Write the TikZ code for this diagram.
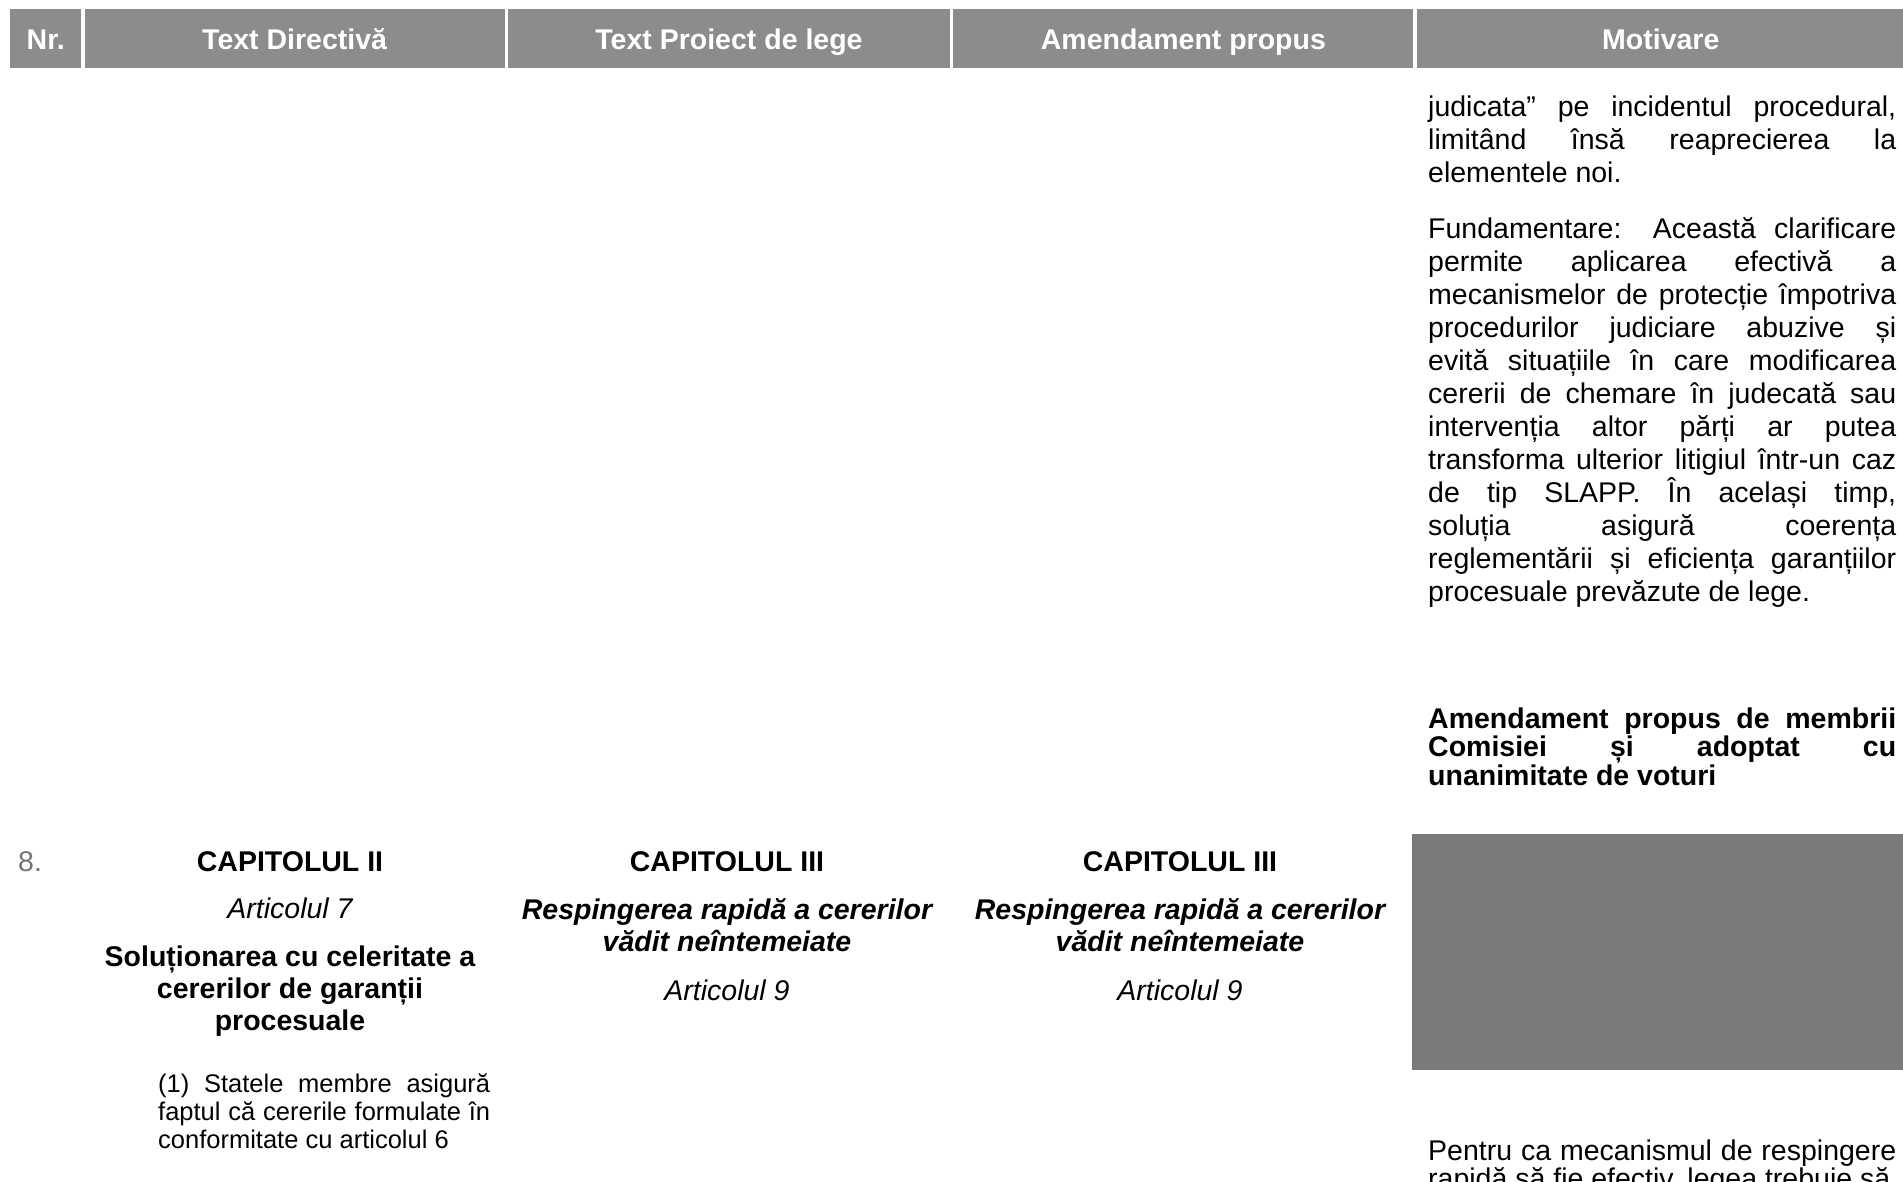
\documentclass[tikz,border=0pt]{standalone}
\usepackage{fontspec}
\setmainfont{Liberation Sans}
\usetikzlibrary{positioning}

\definecolor{hdrgray}{gray}{0.55}
\definecolor{boxgray}{gray}{0.48}
\definecolor{numgray}{gray}{0.45}

\newcommand{\txtsize}{\fontsize{28.5}{33}\selectfont}
\newcommand{\hdsize}{\fontsize{28.5}{32}\selectfont}
\newcommand{\tightsize}{\fontsize{28.5}{28}\selectfont}
\newcommand{\dirsize}{\fontsize{25.5}{28}\selectfont}

\tolerance=10000
\hbadness=10000
\hyphenpenalty=10000

\tikzset{node distance=3pt,
  hcell/.style={fill=hdrgray, text=white, font=\txtsize\bfseries, inner sep=0pt,
    minimum height=59pt, text height=21pt, text depth=0pt},
  motiv/.style={anchor=base west, inner sep=0pt, text width=468pt, align=justify, font=\txtsize},
  dirtext/.style={anchor=base west, inner sep=0pt, text width=332pt, align=justify, font=\dirsize},
  title/.style={anchor=base, inner sep=0pt, align=center, font=\hdsize\bfseries},
  subtitle/.style={anchor=base, inner sep=0pt, font=\txtsize\itshape}}

\begin{document}
\begin{tikzpicture}[x=1pt, y=-1pt]
  \useasboundingbox (0,0) rectangle (1903,1182);

  % header row
  \node[hcell, anchor=north west, minimum width=71pt] (hNr) at (10,9) {Nr.};
  \node[hcell, minimum width=420pt, right=of hNr] (hDir) {Text Directivă};
  \node[hcell, minimum width=442pt, right=of hDir] (hProj) {Text Proiect de lege};
  \node[hcell, minimum width=460pt, right=of hProj] (hAmend) {Amendament propus};
  \node[hcell, minimum width=488pt, right=of hAmend] (hMotiv) {Motivare};

  % motivare, previous row
  \node[motiv] (mPrev) at (1428,117) {judicata” pe incidentul procedural,\linebreak
    limitând însă reaprecierea la\linebreak elementele noi.};
  \node[motiv] (mFund) at (1428,239) {Fundamentare: Această clarificare\linebreak
    permite aplicarea efectivă a\linebreak
    mecanismelor de protecție împotriva\linebreak
    procedurilor judiciare abuzive și\linebreak
    evită situațiile în care modificarea\linebreak
    cererii de chemare în judecată sau\linebreak
    intervenția altor părți ar putea\linebreak
    transforma ulterior litigiul într-un caz\linebreak
    de tip SLAPP. În același timp,\linebreak
    soluția asigură coerența\linebreak
    reglementării și eficiența garanțiilor\linebreak
    procesuale prevăzute de lege.};
  \node[motiv, font=\fontsize{28.5}{28.5}\selectfont\bfseries] (mVot) at (1428,728) {Amendament propus de membrii\linebreak
    Comisiei și adoptat cu\linebreak unanimitate de voturi};

  % row 8
  \node[anchor=base west, inner sep=0pt, font=\txtsize, text=numgray] (nr8) at (18,871) {8.};

  \node[title] (cap2) at (290,871) {CAPITOLUL II};
  \node[subtitle] (art7) at (290,918) {Articolul 7};
  \node[title] (sol2) at (290,1030) {Soluționarea cu celeritate a\\cererilor de garanții\\procesuale};
  \node[dirtext] (par2) at (158,1092) {\parfillskip=0pt (1) Statele membre asigură\linebreak
    faptul că cererile formulate în\linebreak conformitate cu articolul 6};

  \node[title] (cap3) at (727,871) {CAPITOLUL III};
  \node[title, font=\hdsize\bfseries\itshape] (resp3) at (727,951) {Respingerea rapidă a cererilor\\vădit neîntemeiate};
  \node[subtitle] (art9p) at (727,1000) {Articolul 9};

  \node[title] (cap4) at (1180,871) {CAPITOLUL III};
  \node[title, font=\hdsize\bfseries\itshape] (resp4) at (1180,951) {Respingerea rapidă a cererilor\\vădit neîntemeiate};
  \node[subtitle] (art9a) at (1180,1000) {Articolul 9};

  \node[fill=boxgray, anchor=north west, inner sep=0pt, minimum width=491pt, minimum height=236pt] (mBox) at (1412,834) {};
  \node[motiv, font=\tightsize] (mPentru) at (1428,1160) {\parfillskip=0pt Pentru ca mecanismul de respingere\linebreak
    rapidă să fie efectiv, legea trebuie să};
\end{tikzpicture}
\end{document}
